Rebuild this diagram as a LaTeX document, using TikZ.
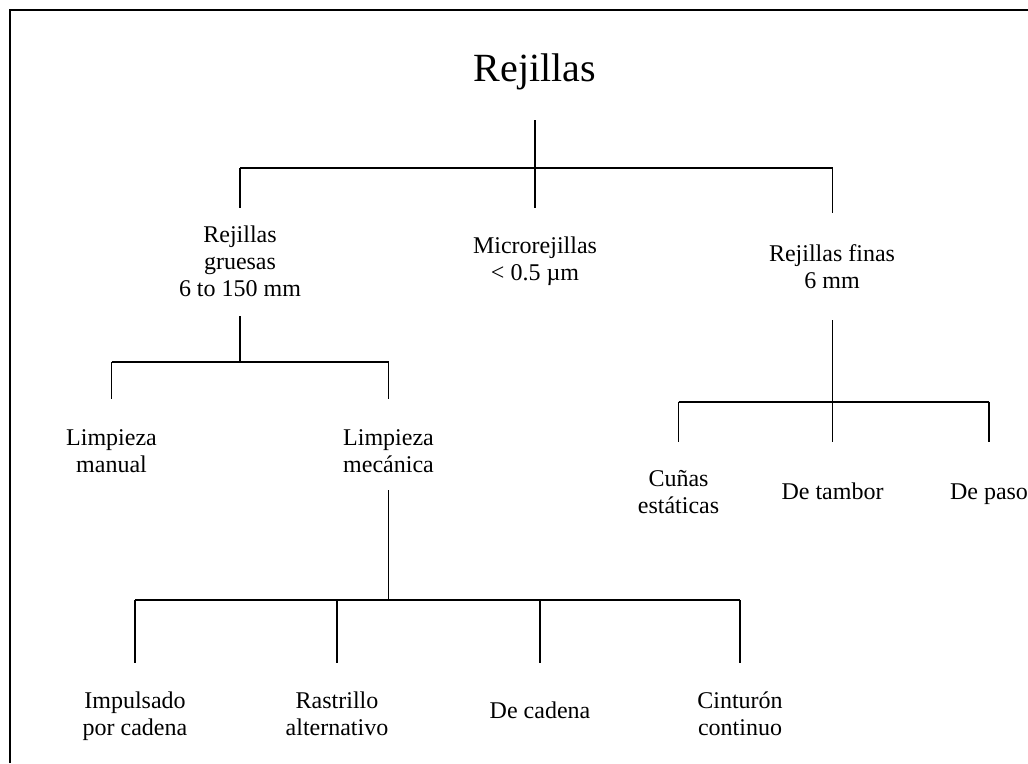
\documentclass[tikz,border=0pt]{standalone}
\usepackage{fontspec}
\setmainfont{Liberation Serif}
\begin{document}
\begin{tikzpicture}[x=1pt,y=-1pt,
  lab/.style={align=center,inner sep=0pt,anchor=north,font=\fontsize{24}{27}\selectfont},
  ttl/.style={inner sep=0pt,anchor=base,font=\fontsize{40}{42}\selectfont},
  vl/.style={draw=black,line width=1.1pt},
  hl/.style={draw=black,line width=1.8pt},
  frame/.style={draw=black,line width=2pt}]
\useasboundingbox (0,0) rectangle (1028,763);
% open frame along the top and left edges
\draw[frame] (9.5,763) -- (9.5,9.5) -- (1028,9.5);

% nodes (a strut opens each text so the first baseline sits 18.9pt below the top)
\node[ttl] (root) at (535,81) {Rejillas};
\node[lab] (gru) at (240,223.1) {\strut Rejillas\\gruesas\\6 to 150 mm};
\node[lab] (mic) at (535,234.1) {\strut Microrejillas\\< 0.5 µm};
\node[lab] (fin) at (832,242.6) {\strut Rejillas finas\\6 mm};
\node[lab] (man) at (111.5,426.8) {\strut Limpieza\\manual};
\node[lab] (mec) at (388.5,426.8) {\strut Limpieza\\mecánica};
\node[lab] (cun) at (678.5,467.8) {\strut Cuñas\\estáticas};
\node[lab] (tam) at (832.5,480.1) {\strut De tambor};
\node[lab] (pas) at (989,480.1) {\strut De paso};
\node[lab] (imp) at (135,689.1) {\strut Impulsado\\por cadena};
\node[lab] (ras) at (337,689.1) {\strut Rastrillo\\alternativo};
\node[lab] (cad) at (540,699.1) {\strut De cadena};
\node[lab] (cin) at (740,689.1) {\strut Cinturón\\continuo};

% stems leaving each parent and ends of each drop
\coordinate (root-o) at (535,120);
\coordinate (gru-o) at (240,316);
\coordinate (mec-o) at (388.5,490);
\coordinate (fin-o) at (832.5,320);
\coordinate (gru-i) at (240,208);
\coordinate (mic-i) at (535,208);
\coordinate (fin-i) at (832.5,213);
\coordinate (man-i) at (111.5,399);
\coordinate (mec-i) at (388.5,399);
\coordinate (cun-i) at (678.5,441.7);
\coordinate (tam-i) at (832.5,441.7);
\coordinate (pas-i) at (989,441.7);
\coordinate (imp-i) at (135,663);
\coordinate (ras-i) at (337,663);
\coordinate (cad-i) at (540,663);
\coordinate (cin-i) at (740,663);

% level 1
\draw[vl] (root-o) -- (root-o |- 0,168);
\draw[hl] (gru-i |- 0,168) -- (fin-i |- 0,168);
\foreach \c in {gru-i,mic-i,fin-i} \draw[vl] (\c |- 0,168) -- (\c);
% coarse screens
\draw[vl] (gru-o) -- (gru-o |- 0,362);
\draw[hl] (man-i |- 0,362) -- (mec-i |- 0,362);
\foreach \c in {man-i,mec-i} \draw[vl] (\c |- 0,362) -- (\c);
% mechanical cleaning
\draw[vl] (mec-o) -- (mec-o |- 0,600);
\draw[hl] (imp-i |- 0,600) -- (cin-i |- 0,600);
\foreach \c in {imp-i,ras-i,cad-i,cin-i} \draw[vl] (\c |- 0,600) -- (\c);
% fine screens
\draw[vl] (fin-o) -- (fin-o |- 0,401.7);
\draw[hl] (cun-i |- 0,401.7) -- (pas-i |- 0,401.7);
\foreach \c in {cun-i,tam-i,pas-i} \draw[vl] (\c |- 0,401.7) -- (\c);
\end{tikzpicture}
\end{document}
